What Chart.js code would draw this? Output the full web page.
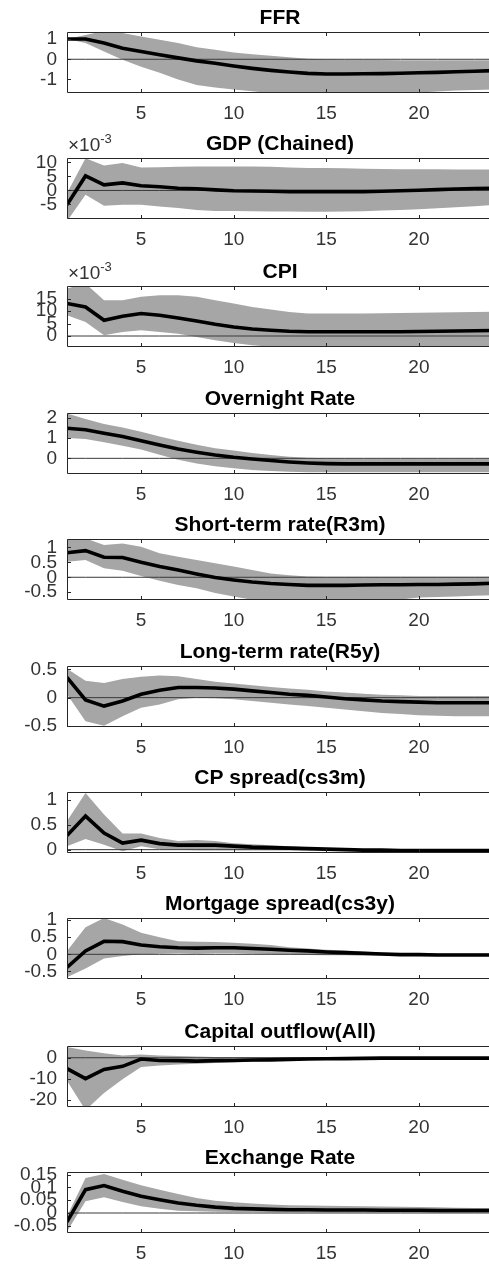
<!DOCTYPE html>
<html>
<head>
<meta charset="utf-8">
<script src="https://cdn.jsdelivr.net/npm/chart.js@4.4.1/dist/chart.umd.min.js"></script>
<style>
  body { margin: 0; background: #fff; overflow: hidden; }
  .panel { position: absolute; left: 0; }
</style>
</head>
<body>
<div id="wrap"></div>
<script>
// horizon (quarters)
var steps = [1,2,3,4,5,6,7,8,9,10,11,12,13,14,15,16,17,18,19,20,21,22,23,24];
var xTicks = [5, 10, 15, 20];

var titles = ['FFR', 'GDP (Chained)', 'CPI', 'Overnight Rate', 'Short-term rate(R3m)',
  'Long-term rate(R5y)', 'CP spread(cs3m)', 'Mortgage spread(cs3y)', 'Capital outflow(All)', 'Exchange Rate'];

// FFR
var ffrMid  = [1.0,1.0,0.8,0.55,0.38,0.22,0.07,-0.08,-0.2,-0.33,-0.45,-0.55,-0.63,-0.7,-0.73,-0.73,-0.72,-0.71,-0.69,-0.67,-0.65,-0.62,-0.59,-0.56];
var ffrHigh = [1.0,1.2,1.4,1.3,1.13,0.97,0.8,0.6,0.47,0.33,0.25,0.17,0.1,0.03,0.0,-0.02,-0.03,-0.04,-0.05,-0.05,-0.05,-0.05,-0.05,-0.05];
var ffrLow  = [1.0,0.8,0.38,-0.03,-0.37,-0.67,-1.0,-1.28,-1.4,-1.5,-1.58,-1.68,-1.75,-1.78,-1.8,-1.8,-1.78,-1.75,-1.7,-1.65,-1.6,-1.55,-1.52,-1.5];

// GDP, in units of 10^-3
var gdpMid  = [-5.1,5.2,2.0,2.7,1.7,1.3,0.8,0.6,0.2,-0.1,-0.2,-0.3,-0.4,-0.4,-0.4,-0.4,-0.4,-0.3,-0.1,0.1,0.3,0.5,0.7,0.8];
var gdpHigh = [-1.0,11.5,8.9,9.8,8.2,8.3,8.5,8.6,8.6,8.6,8.6,8.5,8.2,8.0,8.0,7.9,7.8,7.7,7.6,7.6,7.6,7.5,7.5,7.5];
var gdpLow  = [-11,-1.5,-5.5,-5.1,-5.1,-5.7,-6.3,-7.0,-7.3,-7.3,-7.4,-7.5,-7.5,-7.6,-7.6,-7.5,-7.4,-7.2,-7.0,-6.7,-6.4,-6.0,-5.6,-5.2];

// CPI, in units of 10^-3
var cpiMid  = [13,11.6,6.3,7.9,9.0,8.3,7.2,6.0,4.7,3.6,2.8,2.3,1.9,1.7,1.7,1.7,1.7,1.7,1.7,1.8,1.9,2.0,2.1,2.2];
var cpiHigh = [19,21,14.3,14.3,15.7,16.3,16.3,15.7,14.3,13,11.6,10.6,9.6,9.0,9.0,9.0,9.0,9.1,9.2,9.3,9.4,9.5,9.6,9.7];
var cpiLow  = [8.3,5.6,0.3,1.6,2.3,1.6,0.9,-0.4,-1.7,-2.8,-3.7,-4.3,-4.8,-5,-5,-5,-5,-5,-5,-4.9,-4.8,-4.7,-4.6,-4.5];

// Overnight rate
var onMid  = [1.48,1.41,1.23,1.07,0.87,0.66,0.46,0.3,0.16,0.05,-0.03,-0.11,-0.18,-0.23,-0.26,-0.27,-0.27,-0.27,-0.27,-0.27,-0.27,-0.27,-0.27,-0.27];
var onHigh = [2.2,1.93,1.69,1.52,1.31,1.08,0.87,0.67,0.5,0.38,0.26,0.16,0.08,0.03,0.0,-0.01,-0.02,-0.02,-0.02,-0.02,-0.02,-0.02,-0.02,-0.02];
var onLow  = [1.0,0.95,0.79,0.62,0.43,0.18,-0.07,-0.25,-0.39,-0.49,-0.57,-0.62,-0.66,-0.68,-0.69,-0.69,-0.69,-0.69,-0.69,-0.69,-0.69,-0.69,-0.69,-0.69];

// Short-term rate
var stMid  = [0.82,0.89,0.67,0.66,0.5,0.36,0.24,0.11,-0.01,-0.09,-0.16,-0.21,-0.24,-0.27,-0.27,-0.27,-0.26,-0.25,-0.25,-0.24,-0.24,-0.23,-0.22,-0.2];
var stHigh = [1.27,1.3,1.08,1.13,1.02,0.8,0.69,0.58,0.47,0.36,0.24,0.13,0.07,0.03,0.02,0.02,0.02,0.02,0.02,0.02,0.02,0.02,0.02,0.02];
var stLow  = [0.52,0.58,0.3,0.22,0.04,-0.12,-0.26,-0.37,-0.53,-0.64,-0.75,-0.82,-0.85,-0.85,-0.85,-0.84,-0.82,-0.78,-0.74,-0.68,-0.66,-0.64,-0.62,-0.6];

// Long-term rate
var ltMid  = [0.36,-0.04,-0.15,-0.06,0.06,0.13,0.18,0.18,0.17,0.15,0.12,0.09,0.06,0.04,0.01,-0.02,-0.04,-0.06,-0.07,-0.08,-0.09,-0.09,-0.09,-0.09];
var ltHigh = [0.51,0.3,0.26,0.33,0.37,0.39,0.38,0.33,0.28,0.25,0.22,0.19,0.16,0.14,0.11,0.09,0.07,0.05,0.04,0.03,0.03,0.03,0.03,0.03];
var ltLow  = [0.06,-0.42,-0.5,-0.33,-0.18,-0.12,-0.03,0.0,-0.01,-0.03,-0.06,-0.09,-0.12,-0.15,-0.18,-0.21,-0.24,-0.27,-0.29,-0.31,-0.32,-0.33,-0.33,-0.33];

// CP spread
var cpMid  = [0.28,0.67,0.33,0.13,0.19,0.12,0.09,0.09,0.09,0.07,0.05,0.04,0.03,0.02,0.01,0.0,-0.01,-0.01,-0.02,-0.02,-0.02,-0.02,-0.02,-0.02];
var cpHigh = [0.57,1.13,0.7,0.32,0.32,0.23,0.17,0.19,0.17,0.13,0.11,0.09,0.07,0.05,0.03,0.02,0.01,0.01,0.0,0.0,0.0,0.0,0.0,0.0];
var cpLow  = [0.07,0.21,0.1,-0.03,0.07,0.01,0.0,-0.01,-0.01,-0.01,-0.01,-0.01,-0.01,-0.01,-0.01,-0.02,-0.03,-0.03,-0.04,-0.04,-0.04,-0.04,-0.04,-0.04];

// Mortgage spread
var mgMid  = [-0.38,0.1,0.38,0.37,0.27,0.22,0.19,0.18,0.19,0.19,0.17,0.15,0.12,0.1,0.07,0.05,0.03,0.01,-0.01,-0.01,-0.02,-0.02,-0.02,-0.02];
var mgHigh = [0.1,0.79,1.06,0.87,0.63,0.5,0.38,0.37,0.36,0.34,0.31,0.27,0.21,0.17,0.13,0.11,0.08,0.05,0.03,0.03,0.02,0.02,0.02,0.02];
var mgLow  = [-0.67,-0.41,-0.12,-0.05,0.0,0.02,0.03,0.02,0.03,0.03,0.02,0.01,0.0,-0.02,-0.03,-0.03,-0.04,-0.04,-0.04,-0.04,-0.04,-0.04,-0.04,-0.04];

// Capital outflow
var coMid  = [-5.2,-10,-5.6,-4.1,-0.6,-1.3,-1.4,-1.6,-1.4,-1.3,-1.1,-1.0,-0.8,-0.6,-0.5,-0.4,-0.3,-0.2,-0.2,-0.2,-0.2,-0.2,-0.2,-0.2];
var coHigh = [5.1,3.5,2.2,1.1,1.6,1.1,0.8,0.6,0.4,0.3,0.3,0.3,0.3,0.3,0.3,0.3,0.3,0.3,0.3,0.3,0.3,0.3,0.3,0.3];
var coLow  = [-11,-25,-16.8,-10.3,-4.4,-3.7,-3.2,-2.9,-2.5,-2.2,-1.9,-1.6,-1.3,-1.0,-0.7,-0.6,-0.5,-0.5,-0.5,-0.5,-0.5,-0.5,-0.5,-0.5];

// Exchange rate
var exMid  = [-0.035,0.091,0.107,0.085,0.065,0.052,0.039,0.03,0.023,0.018,0.016,0.014,0.013,0.013,0.012,0.012,0.012,0.011,0.011,0.011,0.01,0.01,0.01,0.01];
var exHigh = [-0.013,0.137,0.152,0.13,0.108,0.091,0.074,0.059,0.048,0.042,0.037,0.033,0.03,0.029,0.028,0.027,0.026,0.025,0.024,0.023,0.022,0.021,0.02,0.02];
var exLow  = [-0.072,0.046,0.061,0.043,0.026,0.017,0.009,0.007,0.005,0.004,0.004,0.003,0.003,0.003,0.002,0.002,0.002,0.002,0.002,0.002,0.002,0.002,0.002,0.002];

// y tick labels and axis limits per panel
var yTicks = [[-1,0,1], [-5,0,5,10], [0,5,10,15], [0,1,2], [-0.5,0,0.5,1],
  [-0.5,0,0.5], [0,0.5,1], [-0.5,0,0.5,1], [-20,-10,0], [-0.05,0,0.05,0.1,0.15]];
var yMin = [-1.67, -10.2, -4.4, -0.77, -0.76, -0.52, -0.067, -0.72, -23.5, -0.078];
var yMax = [1.35, 11.6, 20, 2.23, 1.28, 0.56, 1.15, 1.06, 5.6, 0.16];
var scaled = [false, true, true, false, false, false, false, false, false, false];

var mids  = [ffrMid, gdpMid, cpiMid, onMid, stMid, ltMid, cpMid, mgMid, coMid, exMid];
var highs = [ffrHigh, gdpHigh, cpiHigh, onHigh, stHigh, ltHigh, cpHigh, mgHigh, coHigh, exHigh];
var lows  = [ffrLow, gdpLow, cpiLow, onLow, stLow, ltLow, cpLow, mgLow, coLow, exLow];

// layout
var plotTop = [32, 158, 286, 413, 539, 666, 792, 918, 1046, 1172];
var W = 493, TITLE_H = 27, XAXIS_H = 40, PLOT_H = 61;
var FONT = "'Liberation Sans', Arial, sans-serif";

function pts(arr) {
  return arr.map(function (v, i) { return { x: steps[i], y: v }; });
}

// box, inward ticks, title over the plot area, and the x10^-3 multiplier
var frame = {
  id: 'frame',
  afterDraw: function (chart, args, opts) {
    var a = chart.chartArea, ctx = chart.ctx;
    var xs = chart.scales.x, ys = chart.scales.y;
    ctx.save();
    ctx.strokeStyle = '#262626';
    ctx.lineWidth = 1;
    ctx.beginPath();
    ctx.moveTo(a.right, a.top + 0.5);
    ctx.lineTo(a.left + 0.5, a.top + 0.5);
    ctx.lineTo(a.left + 0.5, a.bottom - 0.5);
    ctx.lineTo(a.right, a.bottom - 0.5);
    xs.ticks.forEach(function (t) {
      var p = Math.round(xs.getPixelForValue(t.value)) + 0.5;
      ctx.moveTo(p, a.top); ctx.lineTo(p, a.top + 4);
      ctx.moveTo(p, a.bottom); ctx.lineTo(p, a.bottom - 4);
    });
    ys.ticks.forEach(function (t) {
      var p = Math.round(ys.getPixelForValue(t.value)) + 0.5;
      ctx.moveTo(a.left, p); ctx.lineTo(a.left + 4, p);
    });
    ctx.stroke();

    ctx.fillStyle = '#000';
    ctx.textAlign = 'center';
    ctx.textBaseline = 'middle';
    ctx.font = 'bold 21px ' + FONT;
    ctx.fillText(opts.title, (a.left + a.right) / 2, a.top - 14);

    if (opts.exp) {
      ctx.fillStyle = '#333';
      ctx.textAlign = 'left';
      ctx.textBaseline = 'alphabetic';
      ctx.font = '19px ' + FONT;
      ctx.fillText('\u00d710', a.left + 1, a.top - 7);
      var w = ctx.measureText('\u00d710').width;
      ctx.font = '13px ' + FONT;
      ctx.fillText('-3', a.left + 1 + w, a.top - 15);
    }
    ctx.restore();
  }
};

var wrap = document.getElementById('wrap');
titles.forEach(function (title, k) {
  var div = document.createElement('div');
  div.className = 'panel';
  div.style.top = (plotTop[k] - TITLE_H) + 'px';
  var cv = document.createElement('canvas');
  cv.width = W;
  cv.height = TITLE_H + PLOT_H + XAXIS_H;
  div.appendChild(cv);
  wrap.appendChild(div);

  new Chart(cv.getContext('2d'), {
    type: 'line',
    data: {
      datasets: [
        { data: pts(mids[k]), borderColor: '#000', borderWidth: 3.6, pointRadius: 0, fill: false },
        { data: pts(steps.map(function () { return 0; })), borderColor: '#3a3a3a', borderWidth: 1, pointRadius: 0, fill: false },
        { data: pts(highs[k]), borderColor: 'rgba(0,0,0,0)', borderWidth: 0, pointRadius: 0,
          fill: '+1', backgroundColor: '#a6a6a6' },
        { data: pts(lows[k]), borderColor: 'rgba(0,0,0,0)', borderWidth: 0, pointRadius: 0, fill: false }
      ]
    },
    options: {
      responsive: false,
      animation: false,
      events: [],
      layout: { padding: { top: TITLE_H, left: 0, right: 0, bottom: 0 } },
      plugins: {
        legend: { display: false },
        tooltip: { enabled: false },
        filler: { drawTime: 'beforeDatasetsDraw' },
        title: { display: false },
        frame: { exp: scaled[k], title: title }
      },
      scales: {
        x: {
          type: 'linear',
          min: 1,
          max: 24,
          grid: { display: false, drawTicks: false },
          border: { display: false },
          afterBuildTicks: function (s) { s.ticks = xTicks.map(function (v) { return { value: v }; }); },
          afterFit: function (s) { s.height = XAXIS_H; },
          ticks: {
            autoSkip: false,
            maxRotation: 0,
            padding: 9,
            color: '#333',
            font: { family: FONT, size: 19 }
          }
        },
        y: {
          min: yMin[k],
          max: yMax[k],
          grid: { display: false, drawTicks: false },
          border: { display: false },
          afterBuildTicks: function (s) { s.ticks = yTicks[k].map(function (v) { return { value: v }; }); },
          afterFit: function (s) { s.width = 67; },
          ticks: {
            autoSkip: false,
            padding: 10,
            color: '#333',
            font: { family: FONT, size: 19 },
            callback: function (v) { return String(Number(v.toFixed(4))); }
          }
        }
      }
    },
    plugins: [frame]
  });
});
</script>
</body>
</html>
